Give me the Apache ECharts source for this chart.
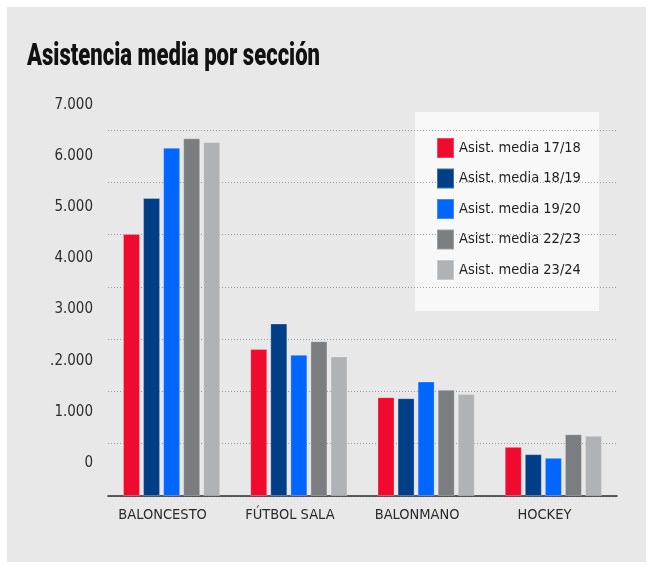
<!DOCTYPE html>
<html>
<head>
<meta charset="utf-8">
<script src="https://cdn.jsdelivr.net/npm/echarts@6/dist/echarts.min.js"></script>
<style>
  html, body { margin: 0; padding: 0; background: #ffffff; }
  #chart { width: 654px; height: 565px; }
</style>
</head>
<body>
<div id="chart"></div>
<script>
// Sections and seasons
const categories = ['BALONCESTO', 'FÚTBOL SALA', 'BALONMANO', 'HOCKEY'];
const seasonNames = ['Asist. media 17/18', 'Asist. media 18/19', 'Asist. media 19/20', 'Asist. media 22/23', 'Asist. media 23/24'];
const seasonColors = ['#f00a2e', '#003f87', '#0066ff', '#7b7e81', '#b0b3b6'];

// Average attendance per section, one array per season
const season1718 = [5010, 2810, 1890, 940];
const season1819 = [5700, 3300, 1870, 800];
const season1920 = [6660, 2700, 2190, 730];
const season2223 = [6840, 2960, 2030, 1180];
const season2324 = [6770, 2670, 1950, 1150];
const seriesValues = [season1718, season1819, season1920, season2223, season2324];

// Value-axis tick labels, printed as they appear in the graphic
const yTickLabels = ['0', '1.000', '.2.000', '3.000', '4.000', '5.000', '6.000', '7.000'];

// Condensed face for all small text
const FONT = '"DejaVu Sans", "Liberation Sans", sans-serif';
const STRETCH = 'condensed';

// Fit the heavy title to its width with a horizontal squeeze
const titleText = 'Asistencia media por sección';
const titleSize = 31;
const titleFont = '900 ' + titleSize + 'px Roboto, "Liberation Sans", sans-serif';
const mctx = document.createElement('canvas').getContext('2d');
mctx.font = titleFont;
const titleScale = 293 / mctx.measureText(titleText).width;

const chart = echarts.init(document.getElementById('chart'), null, { renderer: 'canvas' });

const option = {
  backgroundColor: '#ffffff',
  animation: false,
  color: seasonColors,
  graphic: [
    { type: 'rect', z: -10, shape: { x: 7, y: 7, width: 639, height: 555 }, style: { fill: '#e8e8e8' } },
    { type: 'rect', z: 0, shape: { x: 415, y: 112, width: 184, height: 199 }, style: { fill: '#f8f8f8' } },
    {
      type: 'text', x: 27, y: 57, scaleX: titleScale, z: 5,
      style: { text: titleText, font: titleFont, fill: '#111111', verticalAlign: 'middle' }
    }
  ],
  legend: {
    data: seasonNames,
    orient: 'vertical',
    left: 416,
    top: 117,
    padding: [20, 10, 10, 20],
    itemWidth: 17,
    itemHeight: 20,
    itemGap: 8.5,
    icon: 'rect',
    z: 6,
    textStyle: { fontFamily: FONT, fontStyle: STRETCH, fontSize: 14.5, color: '#1e1e1e', lineHeight: 18 }
  },
  grid: [
    { left: 108, right: 37, top: 130, bottom: 69 },
    { left: 108, right: 37, top: 105, bottom: 102 }
  ],
  xAxis: [
    {
      type: 'category', gridIndex: 0, data: categories,
      axisTick: { show: false },
      axisLine: { lineStyle: { color: '#2b2b2b', width: 1.5 } },
      axisLabel: {
        interval: 0, fontFamily: FONT, fontStyle: STRETCH, fontSize: 14.5, color: '#2a2a2a',
        margin: 12, padding: [0, 18, 0, 0]
      }
    },
    { type: 'category', gridIndex: 1, data: categories, show: false }
  ],
  yAxis: [
    {
      type: 'value', gridIndex: 0, min: 0, max: 7000, interval: 1000,
      axisLabel: { show: false }, axisLine: { show: false }, axisTick: { show: false },
      splitLine: { lineStyle: { color: '#9a9a9a', type: [1, 2], width: 1 } }
    },
    {
      type: 'value', gridIndex: 1, min: 0, max: 7000, interval: 1000,
      axisLine: { show: false }, axisTick: { show: false }, splitLine: { show: false },
      axisLabel: {
        fontFamily: FONT, fontStyle: STRETCH, fontSize: 15, color: '#2e2e2e', margin: 15,
        formatter: v => yTickLabels[Math.round(v / 1000)]
      }
    }
  ],
  series: seasonNames.map((name, i) => ({
    name: name,
    type: 'bar',
    xAxisIndex: 0,
    yAxisIndex: 0,
    data: seriesValues[i],
    barWidth: 17,
    barGap: '18%',
    itemStyle: { color: seasonColors[i], borderColor: 'rgba(255,255,255,0.25)', borderWidth: 1 }
  }))
};

chart.setOption(option);
</script>
</body>
</html>
